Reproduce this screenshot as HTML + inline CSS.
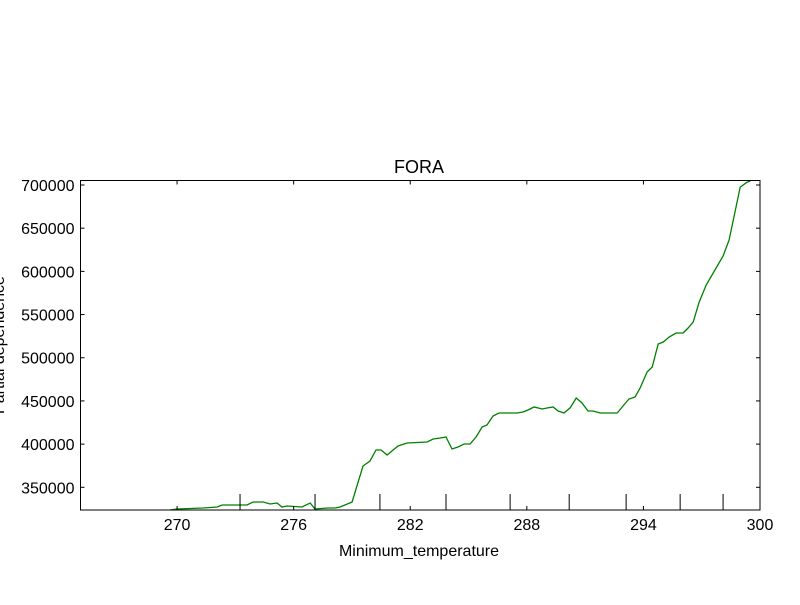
<!DOCTYPE html>
<html><head><meta charset="utf-8"><style>
body{margin:0;background:#fff}
svg text{font-family:"Liberation Sans","DejaVu Sans",sans-serif;fill:#000}
</style></head><body>
<svg id="chart" width="800" height="600" xmlns="http://www.w3.org/2000/svg">
<rect width="800" height="600" fill="#fff"/>
<g id="marks"></g>
<g id="axes"></g>
<text x="419" y="173" font-size="18" text-anchor="middle">FORA</text>
<text x="419" y="556" font-size="16" text-anchor="middle">Minimum_temperature</text>
<text transform="translate(4,345) rotate(-90)" font-size="16" text-anchor="middle">Partial dependence</text>
</svg>
<script>
const xVals=[269.64,270,271.34,272.06,272.32,273.6,273.91,274.43,274.79,275.15,275.40,275.66,276.43,276.85,277.10,277.77,278.13,278.39,279.01,279.57,279.93,280.24,280.50,280.81,281.12,281.37,281.84,282.87,283.18,283.54,283.84,284.15,284.46,284.77,285.08,285.39,285.70,285.95,286.26,286.57,286.93,287.50,287.81,288.06,288.37,288.79,289.04,289.35,289.61,289.92,290.23,290.54,290.84,291.15,291.41,291.77,292.65,292.95,293.26,293.57,293.83,294.19,294.45,294.76,295.02,295.32,295.68,296.04,296.30,296.56,296.87,297.23,297.59,298.10,298.41,298.98,299.34,299.50];
const yVals=[323700,324900,326000,327200,329500,329500,333000,333000,330700,331800,327200,328400,327200,331800,324900,326000,326000,327200,333000,374700,380400,393200,393200,387400,393200,397800,401300,402400,405900,407100,408200,394300,396700,400100,400100,408200,419800,422100,432500,436000,436000,436000,437200,439500,443000,440600,441800,443000,438300,436000,442000,453400,447600,438300,438300,436000,436000,444100,452200,454500,465000,483500,489300,515900,518200,524000,528600,528600,534400,541400,564500,584200,598100,617800,636300,697600,703400,704600];
const xTicks=[270,276,282,288,294,300];
const yTicks=[350000,400000,450000,500000,550000,600000,650000,700000];
const deciles=[273.24,277.10,280.44,283.84,287.14,290.18,293.11,295.89,298.10];
const L=80.5,R=760,T=180.5,B=510,xMin=265.03,xMax=300,yMin=323720,yMax=705200;
const sx=v=>L+(v-xMin)/(xMax-xMin)*(R-L);
const sy=v=>B-(v-yMin)/(yMax-yMin)*(B-T);
const NS="http://www.w3.org/2000/svg";
const marks=document.getElementById('marks'),axes=document.getElementById('axes');
function mk(tag,attrs,parent){const e=document.createElementNS(NS,tag);for(const k in attrs)e.setAttribute(k,attrs[k]);parent.appendChild(e);return e;}
const clip=mk('clipPath',{id:'pc'},marks);mk('rect',{x:L,y:T,width:R-L,height:B-T},clip);
const line=mk('polyline',{points:xVals.map((x,i)=>sx(x).toFixed(1)+','+sy(yVals[i]).toFixed(1)).join(' '),fill:'none',stroke:'#008000','stroke-width':1.3,'clip-path':'url(#pc)'},marks);


deciles.forEach(d=>{const t=mk('line',{x1:sx(d),x2:sx(d),y1:B,y2:B-16,stroke:'#000','stroke-width':1},marks);

});
const frame=mk('rect',{x:L,y:T,width:R-L,height:B-T,fill:'none',stroke:'#000','stroke-width':1},axes);


xTicks.forEach(v=>{const x=sx(v);
mk('line',{x1:x,x2:x,y1:B,y2:B-4,stroke:'#000'},axes);mk('line',{x1:x,x2:x,y1:T,y2:T+4,stroke:'#000'},axes);
const t=mk('text',{x:x,y:B+20,'font-size':16,'text-anchor':'middle'},axes);t.textContent=v;

});
yTicks.forEach(v=>{const y=sy(v);
mk('line',{x1:L,x2:L+4,y1:y,y2:y,stroke:'#000'},axes);mk('line',{x1:R,x2:R-4,y1:y,y2:y,stroke:'#000'},axes);
const t=mk('text',{x:L-6,y:y+6,'font-size':16,'text-anchor':'end'},axes);t.textContent=v;

});
</script>
</body></html>
